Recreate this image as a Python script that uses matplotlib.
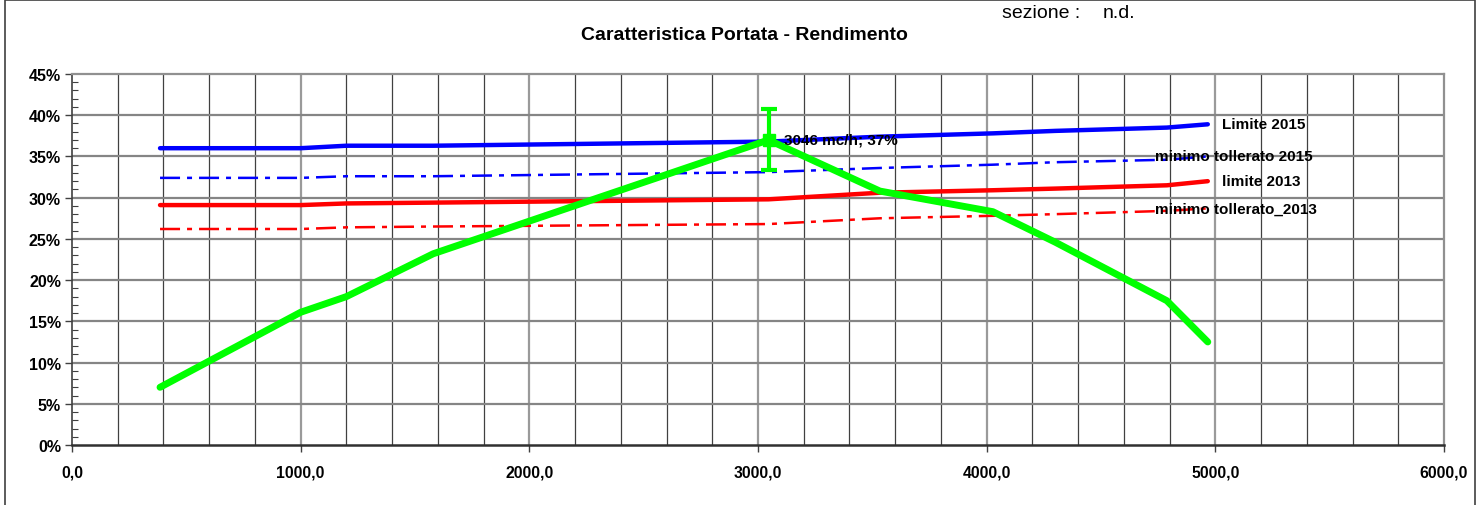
import matplotlib
matplotlib.use("Agg")
import matplotlib.pyplot as plt
from matplotlib.patches import Rectangle
from matplotlib.ticker import MultipleLocator, FixedLocator

plt.rcParams['font.family'] = ['Liberation Sans', 'DejaVu Sans']

# ---- data ----
portata = [385, 1000, 1200, 1580, 3046, 3533, 4027, 4300, 4788, 4967]
rendimento = [7.0, 16.1, 18.0, 23.2, 37.0, 30.8, 28.3, 24.6, 17.5, 12.5]
limite_2015 = [36.0, 36.0, 36.3, 36.3, 36.8, 37.4, 37.8, 38.1, 38.5, 38.9]
minimo_2015 = [32.4, 32.4, 32.6, 32.6, 33.1, 33.6, 34.0, 34.3, 34.6, 35.0]
limite_2013 = [29.1, 29.1, 29.3, 29.4, 29.8, 30.6, 30.9, 31.1, 31.5, 32.0]
minimo_2013 = [26.2, 26.2, 26.4, 26.5, 26.8, 27.5, 27.8, 28.0, 28.4, 28.7]
punto_x = [3046]
punto_y = [37.0]
punto_err = [3.7]
punto_label = "3046 mc/h; 37%"
series_labels = ["Limite 2015", "minimo tollerato 2015", "limite 2013", "minimo tollerato_2013"]
x_ticks = [0, 1000, 2000, 3000, 4000, 5000, 6000]
x_ticklabels = ["0,0", "1000,0", "2000,0", "3000,0", "4000,0", "5000,0", "6000,0"]
y_ticks = [0, 5, 10, 15, 20, 25, 30, 35, 40, 45]
y_ticklabels = ["0%", "5%", "10%", "15%", "20%", "25%", "30%", "35%", "40%", "45%"]

W, H = 1479, 506
fig = plt.figure(figsize=(W / 100, H / 100), dpi=100)
fig.patch.set_facecolor('white')

# outer frame
fig.patches.append(Rectangle((5 / W, -0.05), (1475 - 5) / W, 1.05 - 0.5 / H,
                             transform=fig.transFigure, fill=False,
                             edgecolor='#404040', linewidth=1.2, clip_on=False))

ax = fig.add_axes([72 / W, (H - 446) / H, (1444 - 72) / W, (446 - 75) / H])
ax.set_xlim(0, 6000)
ax.set_ylim(0, 45)

# grid
for xv in range(200, 6000, 200):
    if xv % 1000 == 0:
        ax.axvline(xv, color='#9a9a9a', lw=1.6, zorder=1)
    else:
        ax.axvline(xv, color='#404040', lw=0.9, zorder=1)
for yv in range(5, 45, 5):
    ax.axhline(yv, color='#858585', lw=1.6, zorder=1)

dash_dot = (0, (8, 2.8, 2, 2.8))
ax.plot(portata, limite_2015, color='#0000ff', lw=3.2, zorder=3, solid_capstyle='round')
ax.plot(portata, minimo_2015, color='#0000ff', lw=1.8, ls=dash_dot, zorder=3)
ax.plot(portata, limite_2013, color='#ff0000', lw=3.2, zorder=3, solid_capstyle='round')
ax.plot(portata, minimo_2013, color='#ff0000', lw=1.8, ls=dash_dot, zorder=3)
ax.plot(portata, rendimento, color='#00ff00', lw=5, zorder=4,
        solid_capstyle='round', solid_joinstyle='round')
ax.errorbar(punto_x, punto_y, yerr=punto_err, fmt='s', color='#00ff00',
            markersize=8, elinewidth=3, capsize=5.5, capthick=3, zorder=5)

ax.annotate(punto_label, (punto_x[0], punto_y[0]), xytext=(15, 0),
            textcoords='offset pixels', ha='left', va='center',
            fontsize=11, fontweight='bold', zorder=6)

offsets = [14, -53, 14, -53]
ends = [limite_2015[-1], minimo_2015[-1], limite_2013[-1], minimo_2013[-1]]
for lab, yv, off in zip(series_labels, ends, offsets):
    ax.annotate(lab, (portata[-1], yv), xytext=(off, 0),
                textcoords='offset pixels', ha='left', va='center',
                fontsize=11, fontweight='bold', zorder=6)

# axes styling
ax.xaxis.set_major_locator(FixedLocator(x_ticks))
ax.set_xticklabels(x_ticklabels)
ax.yaxis.set_major_locator(FixedLocator(y_ticks))
ax.set_yticklabels(y_ticklabels)
ax.yaxis.set_minor_locator(MultipleLocator(1))
ax.tick_params(axis='x', which='major', direction='out', length=5, width=1,
               color='#404040', pad=9, labelsize=11.3)
ax.tick_params(axis='y', which='major', direction='out', length=5, width=1,
               color='#404040', pad=3, labelsize=11.5)
ax.tick_params(axis='y', which='minor', direction='in', length=4, width=0.8, color='#404040')
for lbl in ax.get_xticklabels() + ax.get_yticklabels():
    lbl.set_fontweight('bold')

ax.spines['bottom'].set_color('#303030')
ax.spines['bottom'].set_linewidth(1.8)
ax.spines['left'].set_color('#404040')
ax.spines['left'].set_linewidth(1.2)
ax.spines['top'].set_color('#909090')
ax.spines['top'].set_linewidth(1.6)
ax.spines['right'].set_color('#909090')
ax.spines['right'].set_linewidth(1.6)

fig.text(744 / W, 1 - 35 / H, "Caratteristica Portata - Rendimento",
         ha='center', va='center', fontsize=14, fontweight='bold')
fig.text(1002 / W, 1 - 14 / H, "sezione :", ha='left', va='center', fontsize=14)
fig.text(1103 / W, 1 - 14 / H, "n.d.", ha='left', va='center', fontsize=14)

fig.savefig("out.png", dpi=100)
